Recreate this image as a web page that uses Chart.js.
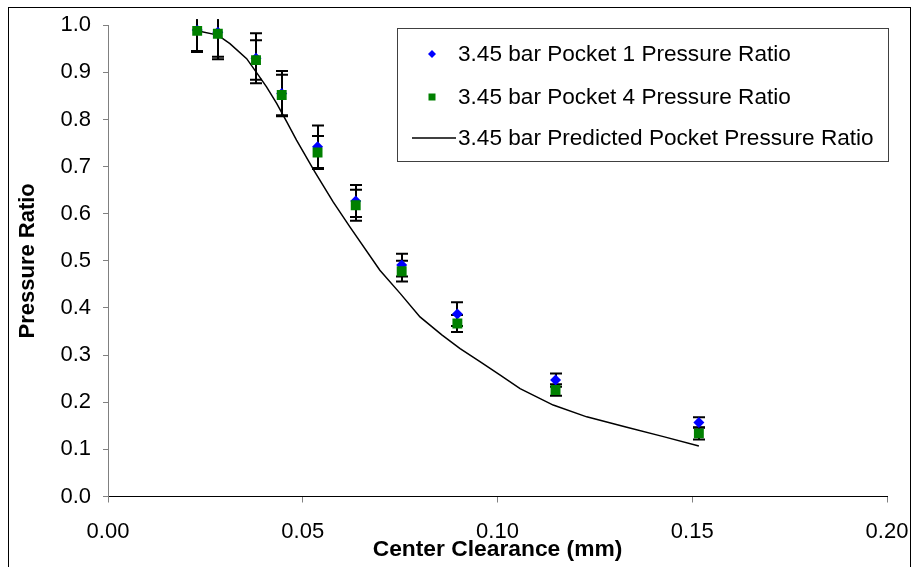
<!DOCTYPE html>
<html><head><meta charset="utf-8">
<script src="https://cdn.jsdelivr.net/npm/chart.js@4/dist/chart.umd.min.js"></script>
<style>
html,body{margin:0;padding:0;background:#fff;overflow:hidden;width:915px;height:567px;}
#wrap{position:relative;width:915px;height:567px;}
#frame{position:absolute;left:8px;top:7px;width:901px;height:600px;border:1px solid #000;pointer-events:none;}
canvas{position:absolute;left:0;top:0;}
</style></head><body>
<div id="wrap"><canvas id="c" width="915" height="567"></canvas><div id="frame"></div></div>
<script>
// ---- data ----
const seriesNames = ['3.45 bar Pocket 1 Pressure Ratio', '3.45 bar Pocket 4 Pressure Ratio', '3.45 bar Predicted Pocket Pressure Ratio'];
const clearance = [0.0229, 0.0282, 0.0380, 0.0446, 0.0538, 0.0636, 0.0754, 0.0897, 0.1149, 0.1517];
const pocket1 = [0.990, 0.985, 0.930, 0.855, 0.742, 0.627, 0.491, 0.387, 0.247, 0.157];
const pocket1Err = [0.045, 0.052, 0.053, 0.048, 0.045, 0.034, 0.024, 0.025, 0.014, 0.011];
const pocket4 = [0.988, 0.982, 0.926, 0.852, 0.730, 0.618, 0.478, 0.367, 0.226, 0.134];
const pocket4Err = [0.045, 0.054, 0.042, 0.043, 0.035, 0.033, 0.022, 0.018, 0.012, 0.013];
const predClearance = [0.0229, 0.0282, 0.0313, 0.0356, 0.0386, 0.0407, 0.0433, 0.0459, 0.0484, 0.0531, 0.0578, 0.0621, 0.0698, 0.0750, 0.0801, 0.0857, 0.0904, 0.0955, 0.1006, 0.1058, 0.1143, 0.1229, 0.1332, 0.1426, 0.1517];
const predRatio = [0.988, 0.979, 0.961, 0.929, 0.894, 0.869, 0.834, 0.795, 0.756, 0.689, 0.625, 0.572, 0.480, 0.431, 0.381, 0.343, 0.314, 0.286, 0.258, 0.229, 0.194, 0.169, 0.147, 0.127, 0.107];
const xTitle = 'Center Clearance (mm)';
const yTitle = 'Pressure Ratio';

const FONT = "'Liberation Sans', Arial, Helvetica, sans-serif";

const errorBarPlugin = {
  id: 'errorBars',
  beforeDatasetsDraw(chart) {
    const {ctx, chartArea, scales} = chart;
    ctx.save();
    ctx.beginPath();
    ctx.rect(chartArea.left, chartArea.top - 6, chartArea.right - chartArea.left, chartArea.bottom - chartArea.top + 6);
    ctx.clip();
    ctx.strokeStyle = '#000';
    ctx.lineWidth = 2;
    chart.data.datasets.forEach(ds => {
      if (!ds.errors) return;
      ds.data.forEach((p, i) => {
        const e = ds.errors[i];
        const px = Math.round(scales.x.getPixelForValue(p.x));
        const yt = scales.y.getPixelForValue(p.y + e);
        const yb = scales.y.getPixelForValue(p.y - e);
        ctx.beginPath();
        ctx.moveTo(px, yt); ctx.lineTo(px, yb);
        ctx.moveTo(px - 6, yt); ctx.lineTo(px + 6, yt);
        ctx.moveTo(px - 6, yb); ctx.lineTo(px + 6, yb);
        ctx.stroke();
      });
    });
    ctx.restore();
  }
};

const legendPlugin = {
  id: 'boxLegend',
  afterDraw(chart) {
    const ctx = chart.ctx;
    const box = {x: 397.5, y: 28.5, w: 491, h: 133};
    const rows = [54, 97, 138];
    ctx.save();
    ctx.fillStyle = '#fff';
    ctx.fillRect(box.x, box.y, box.w, box.h);
    ctx.strokeStyle = '#404040';
    ctx.lineWidth = 1;
    ctx.strokeRect(box.x, box.y, box.w, box.h);
    const ds = chart.data.datasets;
    Chart.helpers.drawPoint(ctx, {pointStyle: 'rectRot', radius: 4, borderWidth: 0}, 432, rows[0]);
    ctx.fillStyle = ds[0].backgroundColor; ctx.fill();
    ctx.fillStyle = ds[1].backgroundColor;
    ctx.fillRect(428.5, rows[1] - 3.5, 7, 7);
    ctx.strokeStyle = ds[2].borderColor; ctx.lineWidth = 1.5;
    ctx.beginPath(); ctx.moveTo(412, rows[2]); ctx.lineTo(456, rows[2]); ctx.stroke();
    ctx.fillStyle = '#000';
    ctx.font = '22.6px ' + FONT;
    ctx.textBaseline = 'middle';
    ctx.textAlign = 'left';
    ds.forEach((d, i) => ctx.fillText(d.label, 458, rows[i] + 1));
    ctx.restore();
  }
};

new Chart(document.getElementById('c'), {
  type: 'scatter',
  data: {
    datasets: [
      {label: seriesNames[0], data: clearance.map((x, i) => ({x, y: pocket1[i]})), errors: pocket1Err,
       pointStyle: 'rectRot', pointRadius: 5.5, backgroundColor: '#0000ff', borderColor: '#0000ff', borderWidth: 0, showLine: false, order: 1},
      {label: seriesNames[1], data: clearance.map((x, i) => ({x, y: pocket4[i]})), errors: pocket4Err,
       pointStyle: 'rect', pointRadius: 7, backgroundColor: '#008000', borderColor: '#008000', borderWidth: 0, showLine: false, order: 0},
      {label: seriesNames[2], data: predClearance.map((x, i) => ({x, y: predRatio[i]})),
       showLine: true, pointRadius: 0, borderColor: '#000000', backgroundColor: '#000000', borderWidth: 1.5, fill: false, tension: 0, order: 2}
    ]
  },
  options: {
    responsive: false,
    animation: false,
    events: [],
    layout: {padding: {left: 0, right: 28, top: 25, bottom: 0}},
    plugins: {legend: {display: false}, tooltip: {enabled: false}},
    scales: {
      x: {
        type: 'linear', min: 0, max: 0.2,
        border: {display: true, color: '#000', width: 1},
        grid: {display: true, drawOnChartArea: false, drawTicks: true, tickLength: 6, color: '#808080'},
        ticks: {stepSize: 0.05, autoSkip: false, maxRotation: 0, callback: v => Number(v).toFixed(2),
                font: {family: FONT, size: 22}, color: '#000', padding: 16},
        title: {display: true, text: xTitle, color: '#000', font: {family: FONT, size: 22.8, weight: 'bold'}, padding: {top: 0, bottom: 4}},
        afterFit: s => { s.height = 70.5; s.paddingLeft = 0; s.paddingRight = 0; }
      },
      y: {
        type: 'linear', min: 0, max: 1,
        border: {display: true, color: '#808080', width: 1},
        grid: {display: true, drawOnChartArea: false, drawTicks: true, tickLength: 5, color: '#808080'},
        ticks: {stepSize: 0.1, autoSkip: false, callback: v => Number(v).toFixed(1),
                font: {family: FONT, size: 22}, color: '#000', padding: 12},
        title: {display: true, text: yTitle, color: '#000', font: {family: FONT, size: 22, weight: 'bold'}, padding: {top: 15, bottom: 0}},
        afterFit: s => { s.width = 108; }
      }
    }
  },
  plugins: [errorBarPlugin, legendPlugin]
});
</script>
</body></html>
